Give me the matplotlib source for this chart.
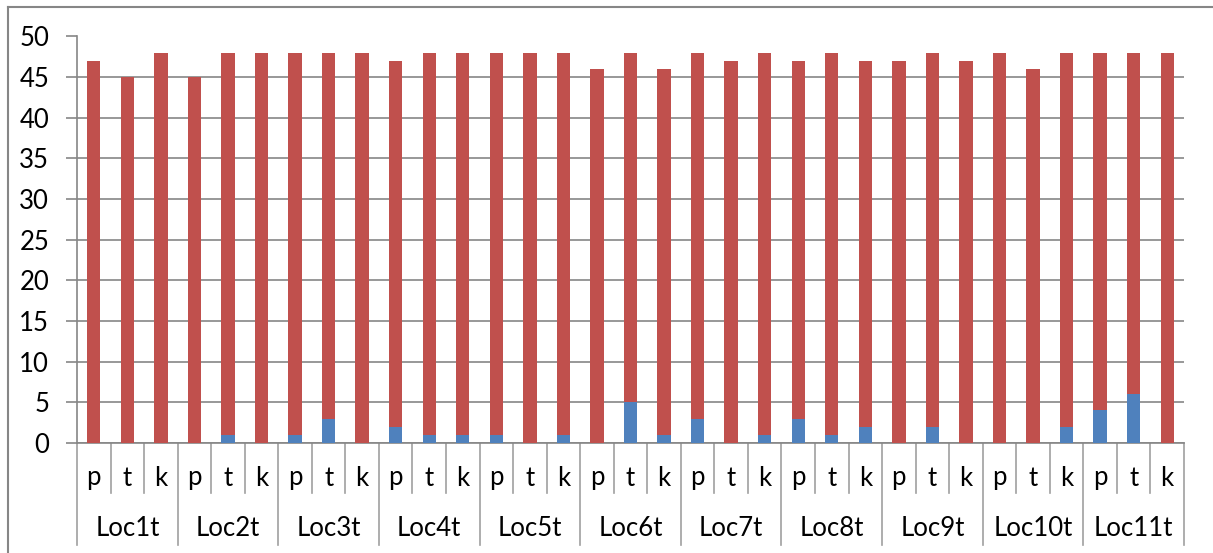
import matplotlib.pyplot as plt
import matplotlib.transforms as mtransforms
from matplotlib.lines import Line2D
import numpy as np

plt.rcParams['font.family'] = ['Lato', 'DejaVu Sans']

groups = ['Loc1t', 'Loc2t', 'Loc3t', 'Loc4t', 'Loc5t', 'Loc6t',
          'Loc7t', 'Loc8t', 'Loc9t', 'Loc10t', 'Loc11t']
subs = ['p', 't', 'k']

# blue (bottom) series, per bar
blue = [0, 0, 0,  0, 1, 0,  1, 3, 0,  2, 1, 1,  1, 0, 1,  0, 5, 1,
        3, 0, 1,  3, 1, 2,  0, 2, 0,  0, 0, 2,  4, 6, 0]
# total bar height
total = [47, 45, 48,  45, 48, 48,  48, 48, 48,  47, 48, 48,  48, 48, 48,
         46, 48, 46,  48, 47, 48,  47, 48, 47,  47, 48, 47,  48, 46, 48,
         48, 48, 48]
red = [t - b for t, b in zip(total, blue)]

W, H = 1213, 553
fig = plt.figure(figsize=(W / 100, H / 100), dpi=100)
ax = fig.add_axes([77 / W, 1 - 443 / H, (1184 - 77) / W, (443 - 36.5) / H])

x = np.arange(len(blue))
ax.bar(x, blue, width=0.4, color='#4F81BD', zorder=3)
ax.bar(x, red, width=0.4, bottom=blue, color='#C0504D', zorder=3)

ax.set_xlim(-0.5, len(blue) - 0.5)
ax.set_ylim(0, 50)
ax.set_yticks(range(0, 51, 5))
ax.yaxis.grid(True, color='#868686', linewidth=1.2, zorder=0)
ax.tick_params(axis='y', length=8, width=1.2, color='#868686', pad=12,
               labelsize=18.5)
ax.set_xticks([])
for s in ['top', 'right']:
    ax.spines[s].set_visible(False)
for s in ['left', 'bottom']:
    ax.spines[s].set_color('#868686')
    ax.spines[s].set_linewidth(1.2)

# two-level category axis
trans = mtransforms.blended_transform_factory(ax.transData, ax.transAxes)
y_sub = -50 / 406.5
y_grp = -102 / 406.5
for i in range(len(blue) + 1):
    xb = i - 0.5
    yb = y_grp if i % 3 == 0 else y_sub
    ax.plot([xb, xb], [0, yb], color='#A0A0A0', linewidth=1.2,
            transform=trans, clip_on=False)
for i in range(len(blue)):
    ax.text(i, -35 / 406.5, subs[i % 3], transform=trans, ha='center',
            va='center', fontsize=18.5)
for g, name in enumerate(groups):
    ax.text(g * 3 + 1, -85 / 406.5, name, transform=trans, ha='center',
            va='center', fontsize=18.5)

# outer chart border
fig.add_artist(Line2D([8 / W, 1], [1 - 7 / H, 1 - 7 / H], color='#868686',
                      linewidth=1.5, transform=fig.transFigure))
fig.add_artist(Line2D([8 / W, 8 / W], [0, 1 - 7 / H], color='#868686',
                      linewidth=1.5, transform=fig.transFigure))

fig.savefig('out.png', dpi=100)
